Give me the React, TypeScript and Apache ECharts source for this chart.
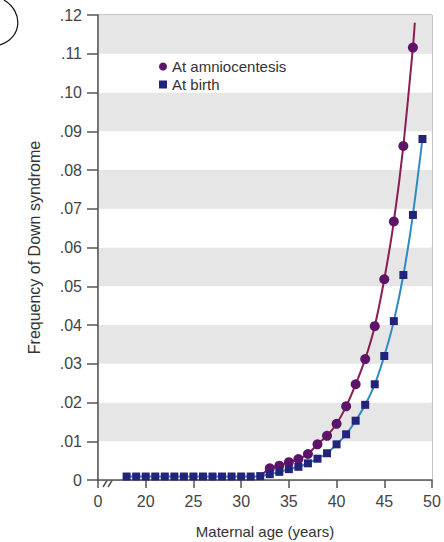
import React, { useEffect, useRef } from "react";
import * as echarts from "echarts";

const flatAges = [18, 19, 20, 21, 22, 23, 24, 25, 26, 27, 28, 29, 30, 31];
const flatValue = 0.0009;

const amnioAges = [33, 34, 35, 36, 37, 38, 39, 40, 41, 42, 43, 44, 45, 46, 47, 48];
const amnioValues = [0.003, 0.0037, 0.0046, 0.0054, 0.0067, 0.0092, 0.0114, 0.0145, 0.019, 0.0247, 0.0312, 0.0397, 0.0518, 0.0667, 0.0862, 0.1116];
const amnioLineEnd = [48.2, 0.118];

const birthAges = [32, 33, 34, 35, 36, 37, 38, 39, 40, 41, 42, 43, 44, 45, 46, 47, 48, 49];
const birthValues = [0.001, 0.0015, 0.0021, 0.0028, 0.0034, 0.0043, 0.0055, 0.0069, 0.0092, 0.0118, 0.0153, 0.0194, 0.0247, 0.032, 0.041, 0.0529, 0.0684, 0.088];

const seriesNames = ["At amniocentesis", "At birth"];
const xTicks = [15, 20, 25, 30, 35, 40, 45, 50];

const FONT = "'Liberation Sans', Arial, Helvetica, sans-serif";

export default function App() {
  const ref = useRef<HTMLDivElement>(null);
  useEffect(() => {
    if (!ref.current) return;
    const chart = echarts.init(ref.current, undefined, { renderer: "svg" });

    const birthData = [
      ...flatAges.map((a) => [a, flatValue]),
      ...birthAges.map((a, i) => [a, birthValues[i]]),
    ];
    const amnioData: any[] = [
      { value: [32, birthValues[0]], symbol: "none" },
      ...amnioAges.map((a, i) => [a, amnioValues[i]]),
      { value: amnioLineEnd, symbol: "none" },
    ];

    chart.setOption({
      animation: false,
      grid: {
        left: 98,
        right: 12,
        top: 15,
        bottom: 62,
        show: true,
        borderColor: "#8a8a8a",
        borderWidth: 1,
        containLabel: false,
        outerBoundsMode: "none",
      },
      legend: {
        orient: "vertical",
        left: 154,
        top: 54,
        itemWidth: 8,
        itemHeight: 8,
        itemGap: 3,
        data: [
          { name: seriesNames[0], icon: "circle" },
          { name: seriesNames[1], icon: "rect" },
        ],
        textStyle: { fontFamily: FONT, fontSize: 15, color: "#333" },
      },
      xAxis: {
        type: "value",
        min: 15,
        max: 50,
        interval: 5,
        name: "Maternal age (years)",
        nameLocation: "middle",
        nameGap: 44,
        nameTextStyle: { fontFamily: FONT, fontSize: 15, color: "#333" },
        axisLine: { lineStyle: { color: "#555", width: 1.5 } },
        axisTick: { length: 8, lineStyle: { color: "#555", width: 1.5 } },
        axisLabel: {
          margin: 13,
          fontFamily: FONT,
          fontSize: 16,
          color: "#444",
          formatter: (v: number) => (v === xTicks[0] ? "0" : String(v)),
        },
        splitLine: { show: false },
      },
      yAxis: {
        type: "value",
        min: 0,
        max: 0.12,
        interval: 0.01,
        name: "Frequency of Down syndrome",
        nameLocation: "middle",
        nameGap: 56,
        nameTextStyle: { fontFamily: FONT, fontSize: 16, color: "#333" },
        axisLine: { show: true, lineStyle: { color: "#555", width: 1.5 } },
        axisTick: { show: true, length: 11, lineStyle: { color: "#555", width: 1.5 } },
        axisLabel: {
          margin: 16,
          fontFamily: FONT,
          fontSize: 16,
          color: "#444",
          formatter: (v: number) => {
            const n = Math.round(v * 100);
            return n === 0 ? "0" : "." + String(n).padStart(2, "0");
          },
        },
        splitLine: { show: false },
        splitArea: { show: true, areaStyle: { color: ["#ffffff", "#e6e6e6"] } },
      },
      graphic: [
        {
          type: "line",
          shape: { x1: 103, y1: 487, x2: 111, y2: 474 },
          style: { stroke: "#555", lineWidth: 1.5 },
        },
        {
          type: "line",
          shape: { x1: 108, y1: 487, x2: 116, y2: 474 },
          style: { stroke: "#555", lineWidth: 1.5 },
        },
        {
          type: "bezierCurve",
          shape: { x1: 4, y1: 0, cpx1: 24, cpy1: 12, cpx2: 22, cpy2: 38, x2: 0, y2: 45 },
          style: { stroke: "#111", lineWidth: 1.2, fill: "none" },
        },
      ],
      series: [
        {
          name: seriesNames[0],
          type: "line",
          data: amnioData,
          smooth: 0.2,
          symbol: "circle",
          symbolSize: 10,
          lineStyle: { color: "#8c1c52", width: 2 },
          itemStyle: { color: "#5c1468" },
          z: 2,
        },
        {
          name: seriesNames[1],
          type: "line",
          data: birthData,
          smooth: 0.2,
          symbol: "rect",
          symbolSize: 8,
          lineStyle: { color: "#2b8cc4", width: 2 },
          itemStyle: { color: "#23237c" },
          z: 3,
        },
      ],
    });
    return () => chart.dispose();
  }, []);
  return <div ref={ref} style={{ width: 444, height: 542, position: "absolute", left: 0, top: 0 }} />;
}
